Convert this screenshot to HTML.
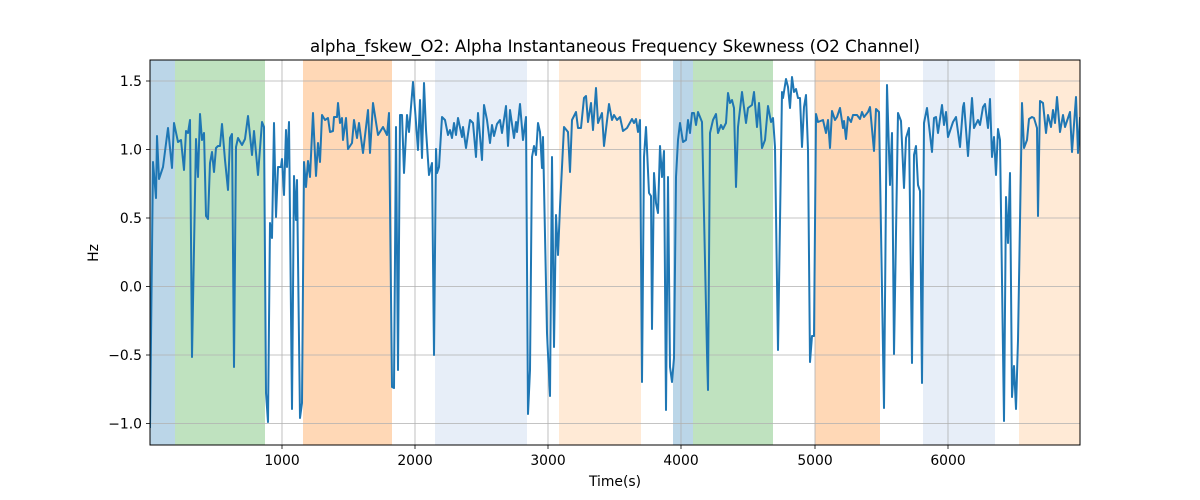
<!DOCTYPE html>
<html><head><meta charset="utf-8"><style>body{margin:0;background:#fff}svg{display:block}</style></head><body>
<svg width="1200" height="500" xmlns="http://www.w3.org/2000/svg" font-family="DejaVu Sans, Liberation Sans, sans-serif">
<defs><clipPath id="c"><rect x="150" y="60" width="930" height="385"/></clipPath></defs>
<rect width="1200" height="500" fill="#fff"/>
<g clip-path="url(#c)">
<rect x="150" y="60" width="25" height="385" fill="rgba(31,119,180,0.3)"/>
<rect x="175" y="60" width="90" height="385" fill="rgba(44,160,44,0.3)"/>
<rect x="303" y="60" width="89" height="385" fill="rgba(255,127,14,0.3)"/>
<rect x="435" y="60" width="92" height="385" fill="rgba(174,199,232,0.3)"/>
<rect x="559" y="60" width="82" height="385" fill="rgba(255,187,120,0.3)"/>
<rect x="673" y="60" width="20" height="385" fill="rgba(31,119,180,0.3)"/>
<rect x="693" y="60" width="80" height="385" fill="rgba(44,160,44,0.3)"/>
<rect x="815" y="60" width="65" height="385" fill="rgba(255,127,14,0.3)"/>
<rect x="923" y="60" width="72" height="385" fill="rgba(174,199,232,0.3)"/>
<rect x="1019" y="60" width="61" height="385" fill="rgba(255,187,120,0.3)"/>
<g stroke="#b0b0b0" stroke-width="0.8">
<line x1="282" y1="60" x2="282" y2="445"/><line x1="415" y1="60" x2="415" y2="445"/><line x1="548" y1="60" x2="548" y2="445"/><line x1="681" y1="60" x2="681" y2="445"/><line x1="815" y1="60" x2="815" y2="445"/><line x1="948" y1="60" x2="948" y2="445"/>
<line x1="150" y1="81" x2="1080" y2="81"/><line x1="150" y1="149.5" x2="1080" y2="149.5"/><line x1="150" y1="218" x2="1080" y2="218"/><line x1="150" y1="286.5" x2="1080" y2="286.5"/><line x1="150" y1="355" x2="1080" y2="355"/><line x1="150" y1="423.5" x2="1080" y2="423.5"/>
</g>
<polyline fill="none" stroke="#1f77b4" stroke-width="2" stroke-linejoin="round" stroke-linecap="square" points="150,427 153,162 156,198 157,136 159,179 163,167 168,128 172,168 174,123 178,142 181,140 184,170 186,131 188,133 190,120 192,357 196,139 198,177 200,114 202,140 204,133 206,216 208,219 210,163 212,152 214,172 216,148 218,146 220,146 222,124 225,160 228,190 230,138 232,134 234,367 236,147 238,138 242,145 245,139 248,116 252,155 254,131 258,175 262,122 264,127 266,393 268,422 270,223 272,238 274,123 276,217 278,167 281,167 282,159 284,195 286,130 287,167 289,122 292,409 294,176 296,220 297,180 300,418 302,403 304,162 306,187 308,161 310,177 313,113 316,176 318,143 320,162 322,115 325,120 328,118 330,132 333,131 334,117 337,117 338,103 340,123 342,118 343,140 346,118 348,149 352,143 354,120 357,138 359,123 363,153 368,110 370,153 373,103 378,135 383,127 387,135 389,113 392,387 394,388 396,127 398,370 400,115 402,115 404,173 407,115 409,132 413,82 418,150 420,100 422,158 424,83 426,130 429,175 432,163 434,355 436,149 437,173 439,167 442,117 445,120 448,135 450,130 452,138 454,123 456,135 458,118 462,137 463,127 466,148 470,120 473,123 476,157 478,113 482,160 484,105 487,120 490,143 492,125 494,136 497,124 500,120 502,133 506,106 508,146 510,110 514,138 516,122 517,132 520,104 523,140 526,117 528,414 530,370 532,157 534,146 536,155 538,123 540,132 542,168 543,137 547,333 550,396 552,157 554,347 556,215 558,255 560,207 564,127 568,132 570,172 572,120 576,112 578,128 581,128 584,98 586,96 588,122 591,103 593,130 596,88 598,123 602,113 604,146 609,104 612,120 614,115 617,120 620,117 623,131 627,128 632,119 634,123 636,119 638,132 640,120 642,382 644,157 646,127 649,193 651,196 652,329 654,173 656,203 658,213 660,146 662,177 664,151 666,410 668,177 670,367 672,382 674,358 676,177 678,140 680,123 683,142 686,140 688,120 690,133 692,113 694,113 696,125 698,112 702,122 707,353 708,390 710,133 713,120 716,114 718,133 721,125 723,129 726,123 728,93 730,103 732,100 734,108 736,187 738,127 742,92 746,123 748,108 752,105 754,92 757,127 759,103 762,148 765,140 768,106 771,122 773,118 775,147 778,350 782,92 783,98 786,79 788,87 790,108 792,77 794,92 796,89 798,98 800,98 802,147 804,107 806,95 808,150 810,362 812,336 814,336 816,114 818,122 823,120 826,133 828,120 830,148 832,111 835,120 837,117 840,108 843,128 844,121 846,139 848,117 851,122 853,115 857,115 860,119 862,112 864,117 868,112 870,107 874,151 876,109 879,112 884,408 887,85 890,185 892,133 894,354 898,113 901,121 904,188 906,138 909,128 912,363 914,155 916,146 918,185 920,191 922,383 924,123 927,108 932,152 934,118 936,117 938,133 942,105 944,125 946,112 948,137 953,122 956,117 960,147 963,107 964,103 968,156 972,98 974,128 978,120 980,125 983,107 985,104 988,128 990,99 992,157 994,137 996,175 998,129 1000,140 1004,421 1006,197 1008,243 1010,173 1012,397 1014,366 1016,409 1018,340 1022,103 1024,148 1027,140 1029,119 1032,117 1034,118 1037,128 1038,216 1040,101 1043,103 1046,133 1048,115 1051,127 1053,110 1055,123 1057,97 1060,132 1063,115 1065,127 1070,112 1072,152 1076,97 1078,153 1080,118"/>
</g>
<rect x="150" y="60" width="930" height="385" fill="none" stroke="#000" stroke-width="1"/>
<g stroke="#000" stroke-width="0.8">
<line x1="282" y1="445" x2="282" y2="449"/><line x1="415" y1="445" x2="415" y2="449"/><line x1="548" y1="445" x2="548" y2="449"/><line x1="681" y1="445" x2="681" y2="449"/><line x1="815" y1="445" x2="815" y2="449"/><line x1="948" y1="445" x2="948" y2="449"/>
<line x1="146" y1="81" x2="150" y2="81"/><line x1="146" y1="149.5" x2="150" y2="149.5"/><line x1="146" y1="218" x2="150" y2="218"/><line x1="146" y1="286.5" x2="150" y2="286.5"/><line x1="146" y1="355" x2="150" y2="355"/><line x1="146" y1="423.5" x2="150" y2="423.5"/>
</g>
<g font-size="13.9" fill="#000" text-anchor="middle">
<text x="282" y="465">1000</text><text x="415" y="465">2000</text><text x="548" y="465">3000</text><text x="681" y="465">4000</text><text x="815" y="465">5000</text><text x="948" y="465">6000</text>
<text x="615" y="486">Time(s)</text>
<text x="615" y="52" font-size="16.67">alpha_fskew_O2: Alpha Instantaneous Frequency Skewness (O2 Channel)</text>
</g>
<g font-size="13.9" fill="#000" text-anchor="end">
<text x="142" y="86">1.5</text><text x="142" y="154.5">1.0</text><text x="142" y="223">0.5</text><text x="142" y="291.5">0.0</text><text x="142" y="360">−0.5</text><text x="142" y="428.5">−1.0</text>
</g>
<text x="98" y="253" font-size="13.9" text-anchor="middle" transform="rotate(-90 98 253)">Hz</text>
</svg>
</body></html>
